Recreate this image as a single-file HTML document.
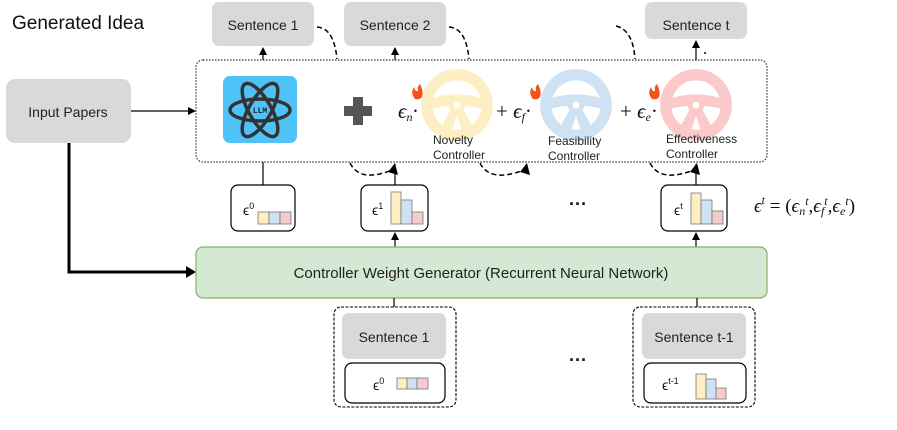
<!DOCTYPE html>
<html><head><meta charset="utf-8"><style>
body{margin:0;background:#fff}
svg{display:block;font-family:"Liberation Sans",sans-serif}
</style></head><body>
<svg width="897" height="430" viewBox="0 0 897 430" xmlns="http://www.w3.org/2000/svg">
<defs>
<marker id="ah" markerWidth="8" markerHeight="8" refX="7" refY="4" orient="auto" markerUnits="userSpaceOnUse"><path d="M0,0 L8,4 L0,8 Z" fill="#000"/></marker>
<g id="wheel"><circle r="27" fill="none" stroke-width="10"/><path d="M-27,-4 Q0,-14 27,-4 L27,4 Q0,-4 -27,4Z"/><circle r="7"/><path d="M-5,4 L-16,24 L-6,26 L0,8Z M5,4 L16,24 L6,26 L0,8Z"/><circle r="3" fill="#fff" stroke="none"/></g>
</defs>
<text x="12" y="29" font-size="19" fill="#111">Generated Idea</text>
<rect x="212" y="2" width="102" height="44" rx="7" fill="#d9d9d9"/>
<text x="263" y="30" font-size="14" text-anchor="middle" fill="#222">Sentence 1</text>
<rect x="344" y="2" width="102" height="44" rx="7" fill="#d9d9d9"/>
<text x="395" y="30" font-size="14" text-anchor="middle" fill="#222">Sentence 2</text>
<rect x="645" y="2" width="102" height="37" rx="7" fill="#d9d9d9"/>
<text x="696" y="30" font-size="14" text-anchor="middle" fill="#222">Sentence t</text>
<rect x="6" y="79" width="125" height="64" rx="9" fill="#d9d9d9"/>
<text x="68" y="117" font-size="14" text-anchor="middle" fill="#222">Input Papers</text>
<line x1="131" y1="111" x2="195" y2="111" stroke="#000" stroke-width="1.3" marker-end="url(#ah)"/>
<rect x="196" y="60" width="571" height="102" rx="7" fill="none" stroke="#333" stroke-width="1.2" stroke-dasharray="1.5,1.5"/>
<line x1="263" y1="60" x2="263" y2="48" stroke="#000" stroke-width="1.2" marker-end="url(#ah)"/>
<line x1="395" y1="60" x2="395" y2="48" stroke="#000" stroke-width="1.2" marker-end="url(#ah)"/>
<line x1="696" y1="60" x2="696" y2="41" stroke="#000" stroke-width="1.2" marker-end="url(#ah)"/>
<circle cx="705" cy="53" r="1" fill="#000"/>
<g fill="none" stroke="#000" stroke-width="1.5" stroke-dasharray="5,3">
<path d="M317,27 Q334,28 337,59"/>
<path d="M449,27 Q466,28 469,59"/>
<path d="M616,26 Q633,30 635,59"/>
<path d="M350,163 Q360,183 392,170"/>
<path d="M480,163 Q490,183 524,170"/>
<path d="M650,163 Q660,183 694,170"/>
</g>
<g fill="#000"><path d="M388,172 L395,163 L398,175Z"/><path d="M520,172 L527,163 L530,175Z"/><path d="M690,172 L697,163 L700,175Z"/></g>
<rect x="223" y="76" width="74" height="67" rx="7" fill="#4fc3f7"/>
<g fill="none" stroke="#333" stroke-width="3.5" transform="translate(260,110)">
<ellipse rx="30" ry="11"/><ellipse rx="30" ry="11" transform="rotate(60)"/><ellipse rx="30" ry="11" transform="rotate(-60)"/>
</g>
<text x="260" y="113" font-size="8" font-weight="bold" text-anchor="middle" font-family="Liberation Mono,monospace" fill="#222">LLM</text>
<rect x="344" y="106" width="28" height="10" fill="#555"/><rect x="353" y="97" width="10" height="28" fill="#555"/>
<text x="398" y="118" font-size="21" font-family="Liberation Serif,serif" font-style="italic" fill="#111">ϵ<tspan font-size="12" dy="3">n</tspan><tspan dy="-3">·</tspan></text>
<text x="496" y="118" font-size="21" font-family="Liberation Serif,serif" fill="#111">+ <tspan font-style="italic">ϵ</tspan><tspan font-size="12" dy="3" font-style="italic">f</tspan><tspan dy="-3">·</tspan></text>
<text x="620" y="118" font-size="21" font-family="Liberation Serif,serif" fill="#111">+ <tspan font-style="italic">ϵ</tspan><tspan font-size="12" dy="3" font-style="italic">e</tspan><tspan dy="-3">·</tspan></text>
<g fill="#f4511e"><path d="M415,99 Q410,93 414,87 Q415,92 418,91 Q417,86 420,84 Q424,92 422,97 Q420,100 415,99Z"/><path d="M533,99 Q528,93 532,87 Q533,92 536,91 Q535,86 538,84 Q542,92 540,97 Q538,100 533,99Z"/><path d="M652,99 Q647,93 651,87 Q652,92 655,91 Q654,86 657,84 Q661,92 659,97 Q657,100 652,99Z"/></g>
<use href="#wheel" transform="translate(457,105) scale(1.12)" fill="#fdefc3" stroke="#fdefc3"/>
<use href="#wheel" transform="translate(576,105) scale(1.12)" fill="#cfe2f3" stroke="#cfe2f3"/>
<use href="#wheel" transform="translate(696,105) scale(1.12)" fill="#fbc9c9" stroke="#fbc9c9"/>
<g font-size="12" fill="#222">
<text x="433" y="144">Novelty</text><text x="433" y="159">Controller</text>
<text x="548" y="145">Feasibility</text><text x="548" y="160">Controller</text>
<text x="666" y="143">Effectiveness</text><text x="666" y="158">Controller</text>
</g>
<line x1="263" y1="162" x2="263" y2="185" stroke="#000" stroke-width="1.2"/>
<line x1="395" y1="185" x2="395" y2="164" stroke="#000" stroke-width="1.2"/>
<line x1="696" y1="185" x2="696" y2="164" stroke="#000" stroke-width="1.2"/>
<rect x="231" y="185" width="64" height="46" rx="7" fill="#fff" stroke="#000" stroke-width="1.2"/>
<text x="243" y="215" font-size="14" fill="#111">ϵ<tspan font-size="9" dy="-6">0</tspan></text>
<g stroke="#777" stroke-width="0.8"><rect x="258" y="212" width="11" height="12" fill="#fdefc3"/><rect x="269" y="212" width="11" height="12" fill="#cfe2f3"/><rect x="280" y="212" width="11" height="12" fill="#f4cccc"/></g>
<rect x="361" y="185" width="67" height="46" rx="7" fill="#fff" stroke="#000" stroke-width="1.2"/>
<text x="372" y="215" font-size="14" fill="#111">ϵ<tspan font-size="9" dy="-6">1</tspan></text>
<g stroke="#777" stroke-width="0.8"><rect x="391" y="192" width="10" height="32" fill="#fdefc3"/><rect x="401" y="200" width="11" height="24" fill="#cfe2f3"/><rect x="412" y="212" width="11" height="12" fill="#f4cccc"/></g>
<rect x="661" y="185" width="66" height="46" rx="7" fill="#fff" stroke="#000" stroke-width="1.2"/>
<text x="674" y="215" font-size="14" fill="#111">ϵ<tspan font-size="9" dy="-6">t</tspan></text>
<g stroke="#777" stroke-width="0.8"><rect x="691" y="193" width="10" height="31" fill="#fdefc3"/><rect x="701" y="200" width="11" height="24" fill="#cfe2f3"/><rect x="712" y="211" width="11" height="13" fill="#f4cccc"/></g>
<text x="578" y="210" font-size="18" font-weight="bold" text-anchor="middle" fill="#111">···</text>
<text x="754" y="212" font-size="19" font-family="Liberation Serif,serif" fill="#111"><tspan font-style="italic">ϵ</tspan><tspan font-size="12" dy="-8" font-style="italic">t</tspan><tspan dy="8"> = (</tspan><tspan font-style="italic">ϵ</tspan><tspan font-size="12" dy="3" font-style="italic">n</tspan><tspan font-size="12" dy="-10" font-style="italic">t</tspan><tspan dy="7">,</tspan><tspan font-style="italic">ϵ</tspan><tspan font-size="12" dy="3" font-style="italic">f</tspan><tspan font-size="12" dy="-10" font-style="italic">t</tspan><tspan dy="7">,</tspan><tspan font-style="italic">ϵ</tspan><tspan font-size="12" dy="3" font-style="italic">e</tspan><tspan font-size="12" dy="-10" font-style="italic">t</tspan><tspan dy="7">)</tspan></text>
<line x1="395" y1="247" x2="395" y2="233" stroke="#000" stroke-width="1.2" marker-end="url(#ah)"/>
<line x1="696" y1="247" x2="696" y2="233" stroke="#000" stroke-width="1.2" marker-end="url(#ah)"/>
<path d="M69,143 L69,272 L188,272" fill="none" stroke="#000" stroke-width="3"/>
<path d="M186,266 L196,272 L186,278Z" fill="#000"/>
<rect x="196" y="247" width="571" height="51" rx="7" fill="#d5e8d4" stroke="#82b366" stroke-width="1.2"/>
<text x="481" y="278" font-size="15" text-anchor="middle" fill="#222">Controller Weight Generator (Recurrent Neural Network)</text>
<line x1="394" y1="298" x2="394" y2="308" stroke="#000" stroke-width="1.2"/>
<line x1="697" y1="298" x2="697" y2="308" stroke="#000" stroke-width="1.2"/>
<rect x="334" y="307" width="122" height="100" rx="7" fill="#fff" stroke="#000" stroke-width="1.1" stroke-dasharray="3,1.5"/>
<rect x="342" y="313" width="104" height="46" rx="7" fill="#d9d9d9"/>
<text x="394" y="342" font-size="14" text-anchor="middle" fill="#222">Sentence 1</text>
<rect x="345" y="363" width="100" height="40" rx="7" fill="#fff" stroke="#000" stroke-width="1.2"/>
<text x="373" y="390" font-size="14" fill="#111">ϵ<tspan font-size="9" dy="-6">0</tspan></text>
<g stroke="#777" stroke-width="0.8"><rect x="397" y="378" width="10" height="11" fill="#fdefc3"/><rect x="407" y="378" width="10" height="11" fill="#cfe2f3"/><rect x="417" y="378" width="11" height="11" fill="#f4cccc"/></g>
<rect x="633" y="307" width="122" height="100" rx="7" fill="#fff" stroke="#000" stroke-width="1.1" stroke-dasharray="3,1.5"/>
<rect x="642" y="313" width="104" height="46" rx="7" fill="#d9d9d9"/>
<text x="694" y="342" font-size="14" text-anchor="middle" fill="#222">Sentence t-1</text>
<rect x="644" y="363" width="102" height="40" rx="7" fill="#fff" stroke="#000" stroke-width="1.2"/>
<text x="662" y="390" font-size="14" fill="#111">ϵ<tspan font-size="9" dy="-6">t-1</tspan></text>
<g stroke="#777" stroke-width="0.8"><rect x="696" y="374" width="10" height="25" fill="#fdefc3"/><rect x="706" y="379" width="10" height="20" fill="#cfe2f3"/><rect x="716" y="388" width="10" height="11" fill="#f4cccc"/></g>
<text x="578" y="366" font-size="18" font-weight="bold" text-anchor="middle" fill="#111">···</text>
</svg>
</body></html>
